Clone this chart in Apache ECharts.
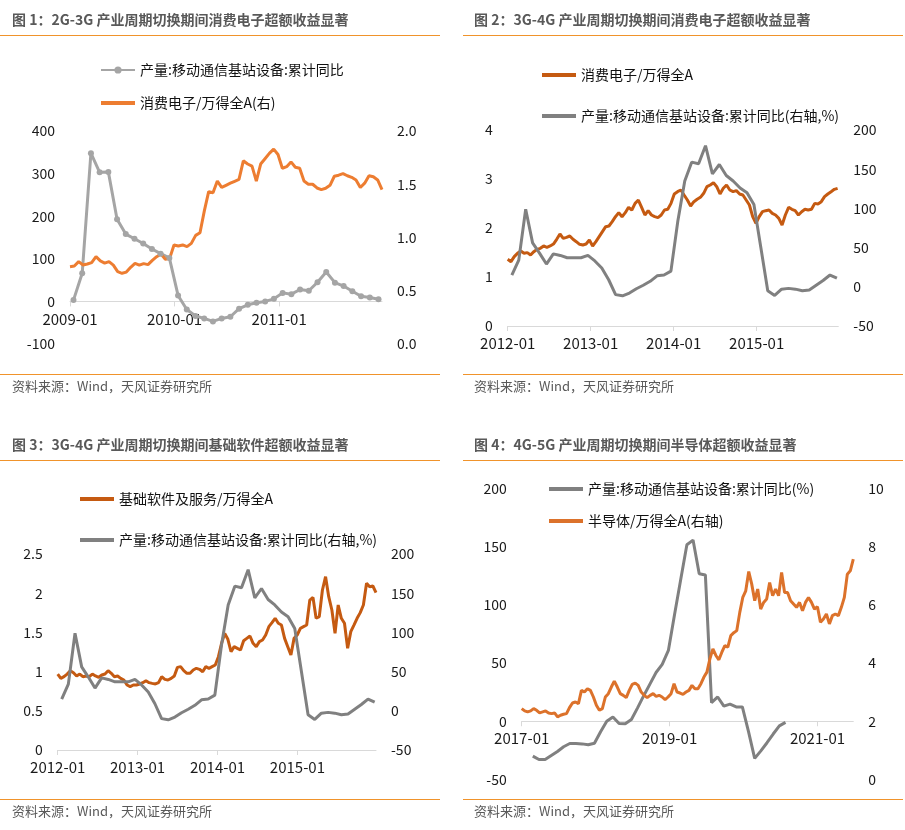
<!DOCTYPE html>
<html>
<head>
<meta charset="utf-8">
<script src="https://cdn.jsdelivr.net/npm/echarts@6/dist/echarts.min.js"></script>
<style>
  html, body { margin: 0; padding: 0; background: #fff; }
  #main { width: 905px; height: 830px; }
</style>
</head>
<body>
<div id="main"></div>
<script>
// ---- data (months counted from January of each panel's first year) ----
var p1Years = ['2009-01', '2010-01', '2011-01'];
var p1ProdStart = 0.4;
var p1Prod = [3, 66, 348, 303, 304, 193, 158, 147, 136, 123, 112, 102, 14, -19, -34, -40, -47, -40,
  -36, -17, -8, -3, 0, 6, 20, 17, 28, 25, 45, 69, 44, 36, 24, 12, 9, 5];
var p1RatioRange = [0, 35.8];
var p1Ratio = [0.726, 0.732, 0.773, 0.742, 0.751, 0.764, 0.820, 0.780, 0.760, 0.773,
  0.740, 0.679, 0.664, 0.675, 0.720, 0.757, 0.740, 0.755, 0.745, 0.785,
  0.820, 0.845, 0.795, 0.804, 0.930, 0.920, 0.930, 0.914, 0.945, 1.020,
  1.045, 1.250, 1.430, 1.420, 1.530, 1.470, 1.490, 1.510, 1.528, 1.545,
  1.720, 1.690, 1.670, 1.530, 1.690, 1.740, 1.790, 1.830, 1.780, 1.650,
  1.665, 1.710, 1.660, 1.650, 1.530, 1.500, 1.500, 1.465, 1.450, 1.462,
  1.490, 1.575, 1.585, 1.600, 1.580, 1.565, 1.540, 1.470, 1.510, 1.580,
  1.570, 1.540, 1.450];

var p2Years = ['2012-01', '2013-01', '2014-01', '2015-01'];
var p2ProdStart = 0.6;
var p2Prod = [15, 34, 99, 56, 43, 29, 42, 40, 37, 37, 37, 40, 33, 24, 9, -10, -11.5, -8, -2.5, 2,
  7, 14, 15, 20, 84, 135, 159, 157, 180, 144, 156, 142, 135, 126, 120, 105, 50, -5, -11, -3,
  -2, -3, -5, -4, 2, 8, 15, 11];
var p2RatioRange = [0, 47.7];
var p2Ratio = [1.361, 1.313, 1.415, 1.483, 1.531, 1.483, 1.497, 1.449, 1.517, 1.565,
  1.585, 1.633, 1.605, 1.633, 1.673, 1.769, 1.878, 1.789, 1.810, 1.837,
  1.769, 1.721, 1.667, 1.653, 1.673, 1.755, 1.633, 1.721, 1.823, 1.925,
  2.027, 2.041, 2.129, 2.231, 2.313, 2.231, 2.313, 2.422, 2.367, 2.503,
  2.571, 2.422, 2.265, 2.354, 2.265, 2.231, 2.211, 2.265, 2.367, 2.381,
  2.503, 2.694, 2.741, 2.776, 2.673, 2.571, 2.449, 2.537, 2.585, 2.626,
  2.708, 2.843, 2.878, 2.925, 2.843, 2.694, 2.810, 2.878, 2.776, 2.741,
  2.762, 2.694, 2.673, 2.571, 2.469, 2.231, 2.095, 2.231, 2.333, 2.354,
  2.367, 2.299, 2.265, 2.197, 2.061, 2.265, 2.422, 2.381, 2.354, 2.265,
  2.333, 2.381, 2.367, 2.381, 2.503, 2.490, 2.537, 2.639, 2.694, 2.741,
  2.789, 2.810];

var p3Years = ['2012-01', '2013-01', '2014-01', '2015-01'];
var p3ProdStart = 0.6;
var p3Prod = p2Prod; // same base-station output series
var p3RatioRange = [0, 47.8];
var p3Ratio = [0.969, 0.914, 0.935, 0.969, 1.012, 0.986, 0.944, 0.969, 0.935, 0.944,
  0.935, 0.969, 0.944, 0.927, 0.957, 0.969, 1.012, 0.978, 0.935, 0.944,
  0.914, 0.893, 0.829, 0.808, 0.829, 0.829, 0.842, 0.859, 0.884, 0.859,
  0.850, 0.842, 0.859, 0.935, 0.901, 0.893, 0.914, 0.944, 1.054, 1.063,
  1.012, 0.978, 0.978, 1.020, 1.042, 1.029, 0.999, 1.063, 1.042, 1.063,
  1.084, 1.190, 1.361, 1.488, 1.412, 1.254, 1.318, 1.297, 1.276, 1.394,
  1.424, 1.454, 1.361, 1.318, 1.382, 1.403, 1.467, 1.573, 1.624, 1.680,
  1.616, 1.594, 1.424, 1.318, 1.212, 1.424, 1.467, 1.552, 1.573, 1.594,
  1.913, 1.947, 1.680, 1.701, 2.041, 2.211, 1.956, 1.786, 1.488, 1.849,
  1.680, 1.616, 1.297, 1.509, 1.594, 1.680, 1.752, 1.849, 2.126, 2.083,
  2.092, 2.007];

var p4Years = ['2017-01', '2019-01', '2021-01'];
var p4ProdStart = 1.8;
var p4Prod = [-30, -33, -33, -29.5, -26, -22, -19.2, -19.2, -19.5, -20.3, -19, -9, 0, 3.7, -2, -2.2,
  1.5, 11.5, 22, 32, 42, 49, 61, 92, 122, 152, 156, 127, 126, 16, 20.9, 13, 14.7, 12.3, 12.3, -9,
  -32, -25.5, -18.5, -11, -4, -1];
var p4RatioRange = [0, 53.8];
var p4Ratio = [2.435, 2.355, 2.320, 2.355, 2.435, 2.378, 2.286, 2.320, 2.355, 2.286,
  2.263, 2.286, 2.149, 2.206, 2.240, 2.263, 2.470, 2.628, 2.663, 2.606,
  3.064, 3.006, 3.121, 3.064, 2.835, 2.549, 2.378, 2.435, 2.835, 2.950,
  3.178, 3.384, 3.178, 2.950, 2.893, 2.813, 3.064, 3.270, 3.315, 3.235,
  3.006, 2.893, 2.813, 2.893, 2.950, 2.858, 2.893, 2.835, 2.744, 2.835,
  2.950, 3.293, 3.006, 2.972, 2.927, 3.006, 3.064, 3.235, 3.121, 3.121,
  3.293, 3.521, 3.692, 4.150, 4.494, 4.265, 4.117, 4.379, 4.608, 4.550,
  4.951, 5.050, 5.122, 5.750, 6.265, 6.494, 7.157, 6.723, 6.151, 6.552,
  5.866, 6.094, 6.209, 6.780, 6.323, 6.552, 6.323, 7.123, 6.437, 6.437,
  6.151, 6.038, 5.923, 6.094, 5.808, 6.094, 6.265, 6.094, 5.866, 5.946,
  5.408, 5.523, 5.695, 5.352, 5.638, 5.695, 5.638, 5.923, 6.265, 7.067,
  7.181, 7.581];

var titles = [
  '图 1：2G-3G 产业周期切换期间消费电子超额收益显著',
  '图 2：3G-4G 产业周期切换期间消费电子超额收益显著',
  '图 3：3G-4G 产业周期切换期间基础软件超额收益显著',
  '图 4：4G-5G 产业周期切换期间半导体超额收益显著'
];
var sourceText = '资料来源：Wind，天风证券研究所';

// ---- helpers ----
function monthly(values, start) {
  return values.map(function (v, i) { return [start + i, v]; });
}
function spread(values, range) {
  var step = (range[1] - range[0]) / (values.length - 1);
  return values.map(function (v, i) { return [range[0] + i * step, v]; });
}

var FONT = '"Noto Sans CJK SC", "Noto Sans", sans-serif';
var AXIS_COLOR = '#d9d9d9';
var LABEL_COLOR = '#1a1a1a';
var RULE_COLOR = '#f0932b';
var FLAT_ICON = 'path://M0,0 H34 V4 H0 Z';

var grids = [
  { left: 70, top: 131, width: 312, height: 213 },
  { left: 507.7, top: 130, width: 330.6, height: 196 },
  { left: 57.7, top: 554, width: 318.3, height: 196 },
  { left: 521.7, top: 489, width: 331.6, height: 290.3 }
];
// left-axis ranges: the x axis sits on their zero line
var leftRanges = [[-100, 400, 100], [0, 4, 1], [0, 2.5, 0.5], [-50, 200, 50]];
var rightRanges = [[0, 2, 0.5], [-50, 200, 50], [-50, 200, 50], [0, 10, 2]];

function xAxisFor(gridIndex, years, step, max) {
  var ticks = years.map(function (y, i) { return i * step; });
  var r = leftRanges[gridIndex];
  var shift = r[0] < 0 ? -grids[gridIndex].height * (-r[0]) / (r[1] - r[0]) : 0;
  return {
    type: 'value', gridIndex: gridIndex, min: 0, max: max, interval: step, offset: shift,
    splitLine: { show: false },
    axisLine: { onZero: false, lineStyle: { color: AXIS_COLOR, width: 1 } },
    axisTick: { show: true, length: 5, customValues: ticks, lineStyle: { color: AXIS_COLOR } },
    axisLabel: {
      customValues: ticks, margin: 10, fontSize: 15, fontFamily: FONT, color: LABEL_COLOR,
      formatter: function (v) { return years[Math.round(v / step)] || ''; }
    }
  };
}
function yAxisFor(gridIndex, pos, r, fmt) {
  return {
    type: 'value', gridIndex: gridIndex, position: pos, min: r[0], max: r[1], interval: r[2],
    splitLine: { show: false }, axisLine: { show: false }, axisTick: { show: false },
    axisLabel: { margin: 15, fontSize: 14, fontFamily: FONT, color: LABEL_COLOR, formatter: fmt }
  };
}
function line(name, x, y, data, color, symbol) {
  return {
    name: name, type: 'line', xAxisIndex: x, yAxisIndex: y, data: data,
    symbol: symbol ? 'circle' : 'none', symbolSize: 6, showSymbol: !!symbol,
    lineStyle: { color: color, width: 3 }, itemStyle: { color: color },
    emphasis: { disabled: true }
  };
}
function legendAt(left, top, gap, items) {
  return {
    orient: 'vertical', left: left, top: top, padding: 0, itemGap: gap, itemWidth: 34, itemHeight: 9,
    selectedMode: false, data: items,
    textStyle: { fontSize: 14, fontFamily: FONT, color: '#111' }
  };
}
function flat(name) { return { name: name, icon: FLAT_ICON }; }

var n1a = '产量:移动通信基站设备:累计同比';
var n1b = '消费电子/万得全A(右)';
var n2a = '消费电子/万得全A';
var n2b = '产量:移动通信基站设备:累计同比(右轴,%)';
var n3a = '基础软件及服务/万得全A';
var n4a = '产量:移动通信基站设备:累计同比(%)';
var n4b = '半导体/万得全A(右轴)';

var graphics = [];
var panels = [[0, 0], [463, 0], [0, 425], [463, 425]];
panels.forEach(function (p, i) {
  var tx = i % 2 === 0 ? 12 : 474;
  graphics.push({ type: 'text', left: tx, top: p[1] + 13,
    style: { text: titles[i], font: 'bold 14px ' + FONT, fill: '#595959' } });
  graphics.push({ type: 'line', shape: { x1: p[0], y1: p[1] + 35.5, x2: p[0] + 440, y2: p[1] + 35.5 },
    style: { stroke: RULE_COLOR, lineWidth: 1 } });
  graphics.push({ type: 'line', shape: { x1: p[0], y1: p[1] + 374.5, x2: p[0] + 440, y2: p[1] + 374.5 },
    style: { stroke: RULE_COLOR, lineWidth: 1 } });
  graphics.push({ type: 'text', left: tx, top: p[1] + 380,
    style: { text: sourceText, font: '13px ' + FONT, fill: '#595959' } });
});

var myChart = echarts.init(document.getElementById('main'), null, { renderer: 'canvas' });

var option = {
  animation: false,
  backgroundColor: '#fff',
  graphic: graphics,
  legend: [
    legendAt(100, 63, 19, [n1a, flat(n1b)]),
    legendAt(542, 68, 27, [flat(n2a), flat(n2b)]),
    legendAt(80, 492, 27, [flat(n3a), flat(n2b)]),
    legendAt(549, 482, 18, [flat(n4a), flat(n4b)])
  ],
  grid: grids,
  xAxis: [
    xAxisFor(0, p1Years, 12, 35.8),
    xAxisFor(1, p2Years, 12, 47.8),
    xAxisFor(2, p3Years, 12, 47.8),
    xAxisFor(3, p4Years, 24, 53.8)
  ],
  yAxis: [
    yAxisFor(0, 'left', leftRanges[0]),
    yAxisFor(0, 'right', rightRanges[0], function (v) { return v.toFixed(1); }),
    yAxisFor(1, 'left', leftRanges[1]),
    yAxisFor(1, 'right', rightRanges[1]),
    yAxisFor(2, 'left', leftRanges[2]),
    yAxisFor(2, 'right', rightRanges[2]),
    yAxisFor(3, 'left', leftRanges[3]),
    yAxisFor(3, 'right', rightRanges[3])
  ],
  series: [
    line(n1a, 0, 0, monthly(p1Prod, p1ProdStart), '#a5a5a5', true),
    line(n1b, 0, 1, spread(p1Ratio, p1RatioRange), '#ed7d31'),
    line(n2a, 1, 2, spread(p2Ratio, p2RatioRange), '#c55a11'),
    line(n2b, 1, 3, monthly(p2Prod, p2ProdStart), '#808080'),
    line(n3a, 2, 4, spread(p3Ratio, p3RatioRange), '#c55a11'),
    line(n2b, 2, 5, monthly(p3Prod, p3ProdStart), '#808080'),
    line(n4a, 3, 6, monthly(p4Prod, p4ProdStart), '#808080'),
    line(n4b, 3, 7, spread(p4Ratio, p4RatioRange), '#dc722b')
  ]
};

myChart.setOption(option);
window.addEventListener('resize', myChart.resize);
</script>
</body>
</html>
